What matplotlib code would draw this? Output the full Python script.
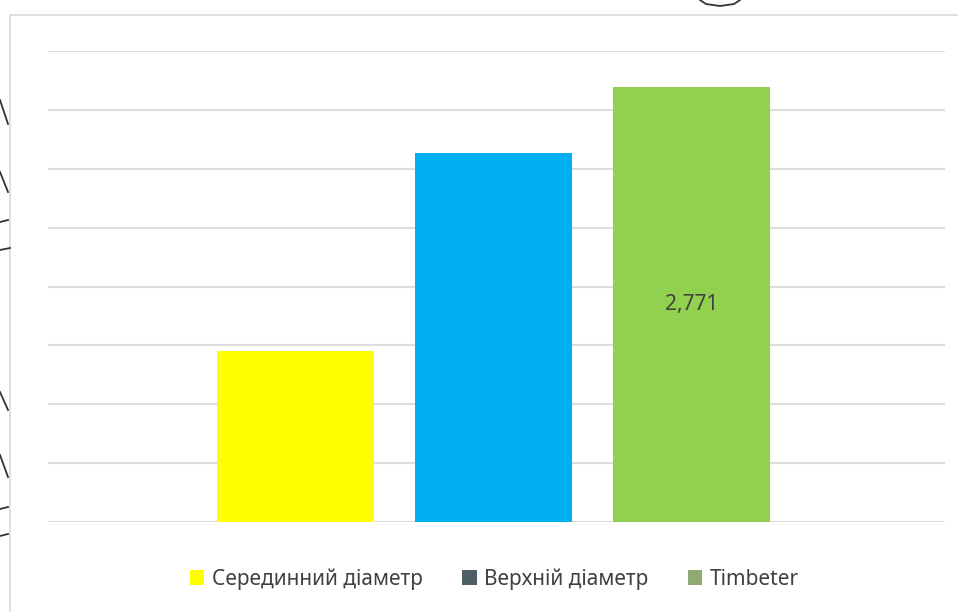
import matplotlib.pyplot as plt
from matplotlib.patches import Patch, Rectangle
from matplotlib.lines import Line2D

series = ['Серединний діаметр', 'Верхній діаметр', 'Timbeter']
values = [1.09, 2.35, 2.771]
bar_colors = ['#FFFF00', '#00B0F0', '#92D050']
legend_colors = ['#FFFF00', '#4F5F66', '#8FAA72']
y_step = 0.375
y_max = 3.0

W, H = 958, 612
fig = plt.figure(figsize=(W / 100, H / 100), dpi=100)
fig.patch.set_facecolor('white')

# рамка области диаграммы
fig.patches.append(Rectangle((10 / W, -0.1), 1.1, (H - 15) / H + 0.1,
                             transform=fig.transFigure, fill=False,
                             edgecolor='#D9D9D9', lw=1.2))

ax = fig.add_axes([48 / W, (H - 522) / H, (945 - 48) / W, (522 - 51) / H])
x = list(range(len(values)))
bars = ax.bar(x, values, width=0.79, color=bar_colors, zorder=3)

ax.set_xlim(-1.25, 3.28)
ax.set_ylim(0, y_max)
ticks = [i * y_step for i in range(int(round(y_max / y_step)) + 1)]
ax.set_yticks(ticks)
ax.grid(axis='y', color='#DDDDDD', lw=1.5, zorder=0)
ax.tick_params(left=False, bottom=False, labelleft=False, labelbottom=False)
for s in ax.spines.values():
    s.set_visible(False)

ax.text(x[2], values[2] / 2, '2,771', ha='center', va='center',
        fontsize=15, color='#404040', family='Noto Sans', zorder=4)

handles = [Patch(facecolor=c, edgecolor='none') for c in legend_colors]
fig.legend(handles, series, loc='center', bbox_to_anchor=(0.516, 33 / H),
           ncol=3, frameon=False, handlelength=0.7,
           handleheight=0.8, handletextpad=0.35, columnspacing=1.9,
           prop={'family': 'Noto Sans', 'size': 15},
           labelcolor='#404040')

# следы рукописных пометок по краям скана
marks = [((0, 100), (8, 124)), ((0, 172), (8, 192)), ((0, 222), (8, 220)),
         ((0, 250), (10, 248)), ((0, 392), (8, 410)), ((0, 455), (8, 477)),
         ((0, 509), (8, 507)), ((0, 536), (8, 534))]
for (x0, y0), (x1, y1) in marks:
    fig.lines.append(Line2D([x0 / W, x1 / W], [1 - y0 / H, 1 - y1 / H],
                            transform=fig.transFigure, color='#333333', lw=1.3))
fig.lines.append(Line2D([700 / W, 706 / W, 720 / W, 734 / W, 740 / W],
                        [1 - 0 / H, 1 - 4 / H, 1 - 6 / H, 1 - 4 / H, 1 - 0 / H],
                        transform=fig.transFigure, color='#333333', lw=1.3))

fig.savefig('out.png', dpi=100)
